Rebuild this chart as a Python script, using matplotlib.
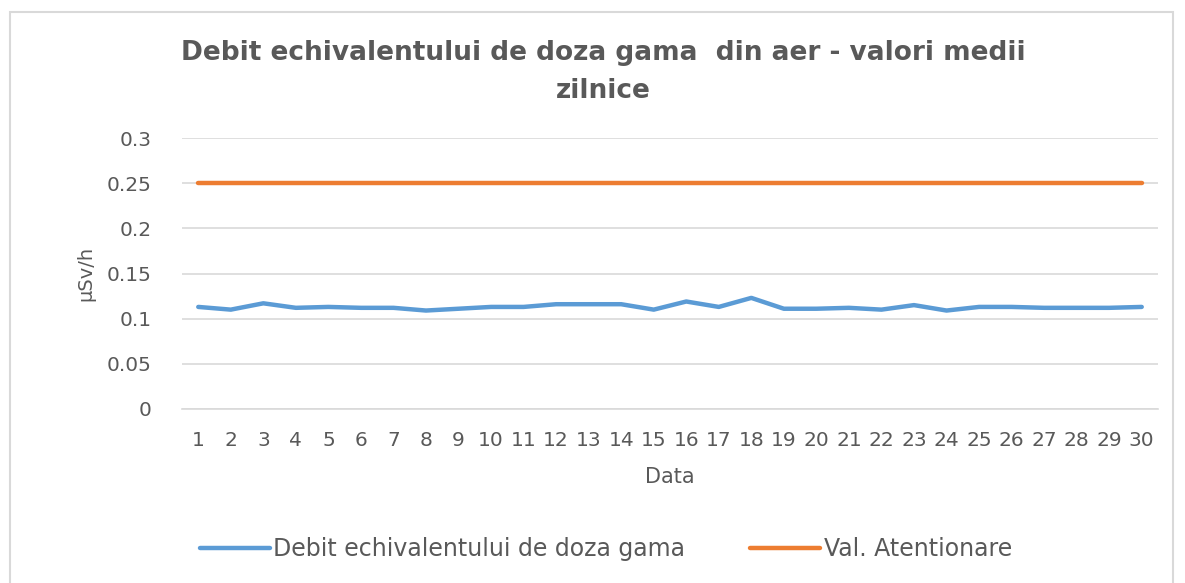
import matplotlib
matplotlib.use("Agg")
import matplotlib.pyplot as plt
from matplotlib.patches import Rectangle

days = list(range(1, 31))
doza = [0.113, 0.110, 0.117, 0.112, 0.113, 0.112, 0.112, 0.109, 0.111, 0.113,
        0.113, 0.116, 0.116, 0.116, 0.110, 0.119, 0.113, 0.123, 0.111, 0.111,
        0.112, 0.110, 0.115, 0.109, 0.113, 0.113, 0.112, 0.112, 0.112, 0.113]
atentionare = [0.25] * 30
y_ticks = [0, 0.05, 0.1, 0.15, 0.2, 0.25, 0.3]
y_labels = ["0", "0.05", "0.1", "0.15", "0.2", "0.25", "0.3"]

W, H = 1185, 583
fig = plt.figure(figsize=(W / 100, H / 100), dpi=100)
fig.patch.set_facecolor("white")
fig.patches.append(Rectangle((10 / W, -0.1), (1163 / W), 1.1 - 12 / H, transform=fig.transFigure,
                             fill=False, edgecolor="#D9D9D9", linewidth=1.5))

left, right, top, bottom = 182, 1158, 138, 409
ax = fig.add_axes([left / W, 1 - bottom / H, (right - left) / W, (bottom - top) / H])

text_color = "#595959"
ax.plot(days, doza, color="#5B9BD5", linewidth=3.2, solid_capstyle="round",
        label="Debit echivalentului de doza gama")
ax.plot(days, atentionare, color="#ED7D31", linewidth=3.2, solid_capstyle="round",
        label="Val. Atentionare")

ax.set_xlim(0.5, 30.5)
ax.set_ylim(0, 0.3)
ax.set_yticks(y_ticks)
ax.set_yticklabels(y_labels)
ax.set_xticks(days)
ax.set_xticklabels([str(d) for d in days])
ax.grid(axis="y", color="#D9D9D9", linewidth=1.2)
ax.set_axisbelow(True)
for s in ["top", "right", "left"]:
    ax.spines[s].set_visible(False)
ax.spines["bottom"].set_color("#D9D9D9")
ax.spines["bottom"].set_linewidth(1.2)
ax.tick_params(axis="x", length=0, labelsize=14.5, colors=text_color, pad=16)
ax.tick_params(axis="y", length=0, labelsize=14.5, colors=text_color, pad=22)

ax.set_ylabel("µSv/h", fontsize=14, color=text_color, labelpad=8)
ax.set_xlabel("Data", fontsize=15, color=text_color, labelpad=12)

fig.text(603 / W, 1 - 72 / H, "Debit echivalentului de doza gama  din aer - valori medii\nzilnice",
         ha="center", va="center", fontsize=19, fontweight="bold", color=text_color,
         linespacing=1.55)

fig.legend(loc="center", bbox_to_anchor=(606 / W, 1 - 549 / H), ncol=2, frameon=False,
           fontsize=17, labelcolor=text_color, handlelength=2.95, handletextpad=0.15,
           columnspacing=2.75)

fig.savefig("out.png", dpi=100)
